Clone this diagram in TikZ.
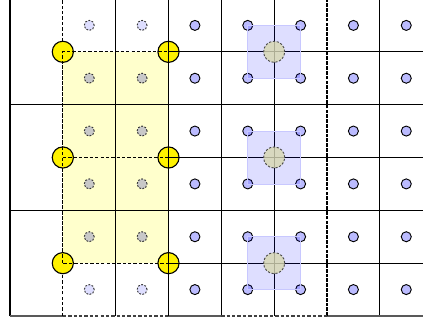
\documentclass[tikz,border=0pt]{standalone}
\definecolor{dotblue}{RGB}{187,187,255}
\definecolor{ghostblue}{RGB}{222,222,255}
\definecolor{dotgray}{RGB}{200,200,200}
\definecolor{khaki}{RGB}{216,216,176}
\definecolor{paleyellow}{RGB}{255,255,204}
\definecolor{sqblue}{RGB}{200,200,255}
\begin{document}
\begin{tikzpicture}[
  gridline/.style={line width=0.6pt, black},
  dashline/.style={line width=0.6pt, black, dash pattern=on 1.8pt off 1.1pt},
  bdot/.style={circle, draw=black, line width=0.5pt, fill=dotblue, inner sep=0pt, minimum size=0.19cm},
  gdot/.style={circle, draw=black!80, dash pattern=on 1pt off 0.8pt, line width=0.5pt, fill=dotgray, inner sep=0pt, minimum size=0.19cm},
  hdot/.style={circle, draw=black!80, dash pattern=on 1pt off 0.8pt, line width=0.5pt, fill=ghostblue, inner sep=0pt, minimum size=0.19cm},
  ycirc/.style={circle, draw=black, line width=0.6pt, fill=yellow, inner sep=0pt, minimum size=0.4cm},
  kcirc/.style={circle, draw=black!70, dash pattern=on 1.2pt off 0.9pt, line width=0.5pt, fill=khaki, fill opacity=0.8, inner sep=0pt, minimum size=0.4cm},
  sqbox/.style={draw=sqblue, line width=0.4pt, fill=blue, fill opacity=0.13, inner sep=0pt, minimum size=1cm}
]
\useasboundingbox (-0.189,-0.076) rectangle (7.817,5.981);

% yellow region
\fill[paleyellow] (1,1) rectangle (3,5);

% solid grid lines
\draw[gridline] (0,0) -- (0,6);
\draw[gridline] (2,0) -- (2,6);
\foreach \x in {3,4,5,7} \draw[gridline] (\x,0) -- (\x,6);
\draw[gridline] (0,2) -- (8,2);
\draw[gridline] (0,4) -- (8,4);
\foreach \y in {1,3,5} \draw[gridline] (3,\y) -- (8,\y);
\draw[gridline, black!65] (0,0) -- (1,0);
\draw[gridline, black!65] (3,0) -- (4,0);
\draw[gridline, black!65] (6,0) -- (8,0);

% dashed lines
\draw[dashline] (1,0) -- (1,6);
\draw[dashline, line width=0.9pt, dash pattern=on 2pt off 0.6pt] (6,0) -- (6,6);
\draw[dashline, black!75] (1,0) -- (3,0);
\draw[dashline, black!75] (4,0) -- (6,0);

% coarse centres
\foreach \y/\n in {5/a,3/b,1/c} {
  \node[ycirc] (yl\n) at (1,\y) {};
  \node[ycirc] (yr\n) at (3,\y) {};
}

% yellow region border and inner dashed line (over the circles)
\draw[dashline] (1,1) rectangle (3,5);
\draw[dashline] (1,3) -- (3,3);
\draw[dashline] (3,0) -- (3,6);
\foreach \y in {1,3,5} \draw[gridline] (3,\y) -- (3.3,\y);
\foreach \y in {1,3,5} \draw[gridline] (3,\y-0.3) -- (3,\y+0.3);

% fine cell centres
\foreach \x in {3,...,7} \foreach \y in {0,...,5}
  \node[bdot] (b\x\y) at (\x+0.5,\y+0.5) {};
\foreach \x in {1,2} \foreach \y in {1,...,4}
  \node[gdot] (g\x\y) at (\x+0.5,\y+0.5) {};
\foreach \x in {1,2} \foreach \y in {0,5}
  \node[hdot] (h\x\y) at (\x+0.5,\y+0.5) {};

% blue squares with khaki centres
\foreach \y/\n in {5/a,3/b,1/c} {
  \node[sqbox] (sq\n) at (5,\y) {};
  \node[kcirc] (k\n) at (5,\y) {};
}
\end{tikzpicture}
\end{document}
